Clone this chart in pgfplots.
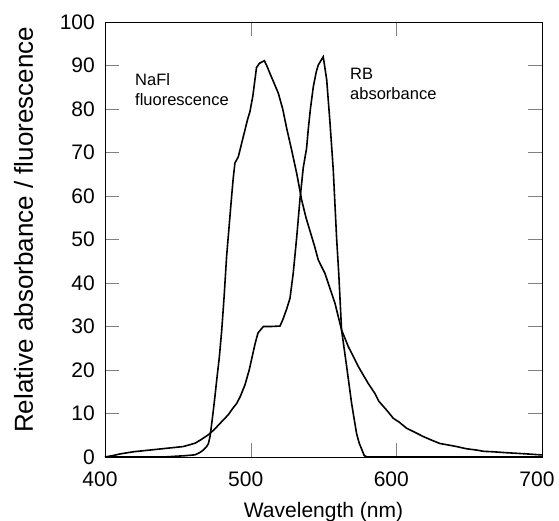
\documentclass[border=0pt]{standalone}
\usepackage{fontspec}
\setmainfont{Liberation Sans}
\usepackage{pgfplots}
\pgfplotsset{compat=1.18}
\begin{document}
\begin{tikzpicture}
\begin{axis}[
  at={(0,0)}, anchor=south west,
  scale only axis, width=437pt, height=435pt,
  xmin=400, xmax=700, ymin=0, ymax=100,
  xtick={400,500,600,700}, ytick={0,10,...,100},
  major tick length=14pt,
  /pgf/number format/assume math mode=true,
  tick label style={font=\fontsize{21}{24}\selectfont, inner sep=0pt},
  yticklabel style={xshift=-10pt},
  xticklabel style={yshift=-14.7pt, xshift=-5pt},
  xlabel={Wavelength (nm)},
  ylabel={Relative absorbance / fluorescence},
  every axis x label/.style={at={(axis description cs:0.5,-0.138)}, anchor=base, font=\fontsize{21}{24}\selectfont},
  every axis y label/.style={at={(axis description cs:-0.1648,0.522)}, rotate=90, anchor=base, font=\fontsize{26}{30}\selectfont},
]
% NaFl fluorescence
\addplot[black, line width=1.6pt, mark=none] coordinates {
(400,0) (410,0) (420,0) (430,0) (440,0) (450,0.2) (455,0.3) (461.8,0.5) (465,1) (467.5,1.6)
(469.8,2.4) (471,3.1) (472.1,4.7) (473,7) (474.3,10.5) (475.5,14) (476.7,17.7) (478.5,23)
(480.1,29) (481.8,37) (483.5,46.2) (485.2,53) (486.9,59.8) (488,64) (489.2,67.6) (491.5,69)
(493,71) (494.9,73.6) (496.1,75.2) (497.8,77.5) (499.5,79.4) (501.5,83) (504,89.5) (506,90.5)
(509.4,91.1) (511,90) (513.2,88.2) (516,86) (519,83.6) (522,80) (524.7,75.6) (528.1,70.6)
(531.6,65.2) (535,59.1) (538,55) (540.7,52) (544,48.3) (546.4,45.3) (549.8,43) (551,42.2)
(557.9,35.3) (562.4,29.2) (567,25.4) (573.9,20.8) (580.7,16.9) (585.3,14.6) (588,12.8)
(593.3,10.8) (597.9,8.9) (602,8) (607.1,6.6) (612,5.8) (618.5,4.7) (624,3.9) (629.9,3.1)
(635,2.8) (641.4,2.4) (648,1.9) (655,1.6) (660,1.3) (666.5,1.2) (675,1.0) (685,0.8) (690,0.7)
(698.6,0.5) (700,0.5)
};
% RB absorbance
\addplot[black, line width=1.6pt, mark=none] coordinates {
(400,0) (405,0.3) (410.3,0.7) (419.4,1.2) (430.9,1.6) (442.3,2) (453.7,2.4) (458,2.8) (462,3.2)
(466,4) (470.9,5.1) (475,6.3) (478.9,7.7) (484.6,9.7) (488,11.3) (490.4,12.3) (493,14) (496.1,16.6)
(499,20) (501,23) (503,26) (505,28.5) (508.7,30) (514,30) (520.1,30.1) (522,31.5) (524.7,34)
(527,36.5) (529.2,42.2) (531.6,50.5) (533.8,59.1) (536.1,66.5) (538.4,71) (539.5,75.2) (541,80)
(543,85.1) (545,88.5) (546.4,90.1) (548,91) (549.8,92) (550.5,90.5) (552.2,86.7) (554.4,77.1)
(556.7,66) (559,50.3) (560.5,42) (562.4,29.2) (565.9,20.8) (569.3,12.3) (572.7,5.4) (574.5,3.2)
(576.2,1.8) (578,0.3) (580,0) (600,0) (650,0) (700,0)
};
\node[anchor=base west, inner sep=0pt, font=\fontsize{16.5}{19}\selectfont] at (axis cs:420.6,85.3) {NaFl};
\node[anchor=base west, inner sep=0pt, font=\fontsize{16.5}{19}\selectfont] at (axis cs:420.6,80.9) {fluorescence};
\node[anchor=base west, inner sep=0pt, font=\fontsize{16.5}{19}\selectfont] at (axis cs:568.2,86.7) {RB};
\node[anchor=base west, inner sep=0pt, font=\fontsize{16.5}{19}\selectfont] at (axis cs:568.2,82.1) {absorbance};
\end{axis}
\pgfresetboundingbox
\path[use as bounding box] (-105pt,-64pt) rectangle (454pt,457pt);
\end{tikzpicture}
\end{document}
